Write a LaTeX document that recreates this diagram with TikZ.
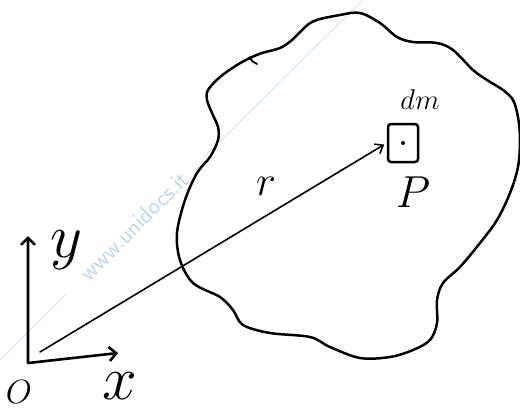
\documentclass[tikz,border=0pt]{standalone}
\usetikzlibrary{arrows.meta}
\definecolor{wmblue}{RGB}{190,215,240}
\tikzset{
  hand/.style={line width=2.5pt, line cap=round, line join=round},
  axis/.style={hand, line width=2.6pt, {Straight Barb[length=7pt,width=14pt]}-{Straight Barb[length=7pt,width=14pt]}},
  vec/.style={line width=1.6pt, line cap=round, -{Straight Barb[length=7pt,width=11pt]}},
  lbl/.style={font=\fontsize{24}{24}\selectfont, inner sep=0pt},
}
\begin{document}
\begin{tikzpicture}[x=1pt, y=-1pt]
	\useasboundingbox (0,0) rectangle (520,408);
	
	% watermark
	\node[rotate=45, text=wmblue, inner xsep=26pt, font=\sffamily\fontsize{24}{24}\selectfont] (wm) at (134,226) {www.unidocs.it};
	\coordinate (wa) at (0,360);
	\coordinate (wb) at (363,0);
	\draw[wmblue, line width=0.6pt] (wa) -- (wm) -- (wb);
	
	% body
	\draw[hand] plot[smooth cycle, tension=0.55] coordinates {
		(340,15) (360,13) (380,23) (397,37) (413,42) (437,43) (453,50) (473,70)
		(487,80) (503,90) (513,100) (518,117) (520,140) (518,167) (510,193)
		(497,220) (480,243) (460,267) (443,283) (437,300) (437,323) (430,340)
		(413,350) (390,357) (360,358) (330,347) (310,337) (270,333) (243,325)
		(233,310) (220,297) (193,283) (180,260) (177,233) (185,200) (197,173)
		(210,157) (218,140) (218,127) (212,113) (207,100) (208,90) (220,77)
		(237,65) (250,58) (262,53) (280,48) (292,40) (312,22)};
	\draw[hand, line width=1.8pt] (250,57) -- (252,61) -- (257,64);
	
	% axes
	\coordinate (o) at (28,363);
	\coordinate (ytip) at (28,236);
	\coordinate (xtip) at (118,353);
	\draw[axis] (ytip) -- (o) -- (xtip);
	\node[lbl, scale=2.5] (ly) at (66,250) {$y$};
	\node[lbl, scale=2.5] (lx) at (120,386) {$x$};
	\node[lbl, scale=1.35] (lo) at (19,392) {$O$};
	
	% mass element
	\node[draw, hand, rounded corners=3pt, minimum width=30pt, minimum height=38pt] (dm) at (403,143) {};
	\fill (dm.center) circle (2pt);
	\node[lbl, scale=1.15] (ldm) at (420,100) {$dm$};
	\node[lbl, scale=1.8] (lp) at (413,192) {$P$};
	
	% position vector
	\coordinate (rs) at (40,352);
	\draw[vec, shorten >=3pt] (rs) -- (dm.west);
	\node[lbl, scale=1.7] (lr) at (266,186) {$r$};
\end{tikzpicture}
\end{document}
